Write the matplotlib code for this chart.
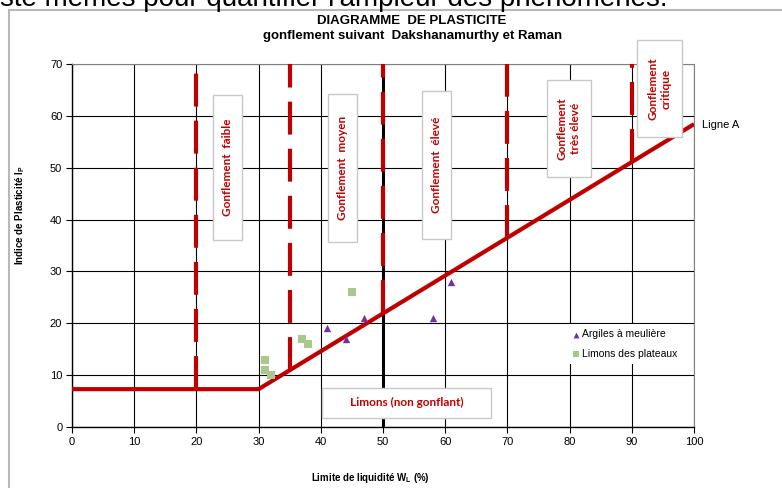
import matplotlib
matplotlib.use("Agg")
import matplotlib.pyplot as plt
from matplotlib.patches import Rectangle

plt.rcParams['font.family'] = ['Liberation Sans', 'DejaVu Sans']
plt.rcParams['mathtext.fontset'] = 'custom'
plt.rcParams['mathtext.rm'] = 'Liberation Sans'
plt.rcParams['mathtext.bf'] = 'Liberation Sans:bold'

# samples
argiles_wl = [41, 44, 47, 58, 61]
argiles_ip = [19, 17, 21, 21, 28]
limons_wl = [31, 31, 32, 37, 38, 45]
limons_ip = [13, 11, 10, 17, 16, 26]

# Ligne A (Casagrande)
aline_wl = [0, 30, 100]
aline_ip = [7.3, 7.3, 58.4]

# swelling boundaries (Dakshanamurthy & Raman), starting on the A-line
bound_wl = [20, 35, 50, 70, 90]
bound_ip_start = [7.3, 10.95, 21.9, 36.5, 51.1]

zone_labels = ['Gonflement  faible', 'Gonflement  moyen', 'Gonflement  élevé',
               'Gonflement\ntrès élevé', 'Gonflement\ncritique']

RED = '#C00000'
PURPLE = '#7030A0'
GREEN = '#A9C88E'

fig = plt.figure(figsize=(7.82, 4.88), dpi=100)
fig.patch.set_facecolor('white')

# outer chart frame (partly cut by the crop)
fig.patches.append(Rectangle((9 / 782, -0.2), 2.0, 1.2 - 10 / 488, transform=fig.transFigure,
                             fill=False, edgecolor='#b8b8b8', lw=1.5, zorder=0))
fig.text(0.0, 1 - 6 / 488, "ste mêmes pour quantifier l'ampleur des phénomènes.",
         fontsize=20, va='baseline', ha='left')

ax = fig.add_axes([72 / 782, 61 / 488, 622 / 782, 363 / 488])
ax.set_xlim(0, 100)
ax.set_ylim(0, 70)
ax.set_xticks(range(0, 101, 10))
ax.set_yticks(range(0, 71, 10))
ax.grid(True, color='black', lw=0.8)
ax.set_axisbelow(True)
ax.tick_params(direction='out', length=4, width=0.8, labelsize=8, pad=3)
for s in ['top', 'right']:
    ax.spines[s].set_color('#808080')
for s in ['left', 'bottom']:
    ax.spines[s].set_linewidth(1.0)

ax.plot([50, 50], [0, 70], color='black', lw=2.2, zorder=2)
ax.plot(aline_wl, aline_ip, color=RED, lw=3, zorder=3, solid_capstyle='butt')
for wl, ip0 in zip(bound_wl, bound_ip_start):
    ax.plot([wl, wl], [ip0, 70], color=RED, lw=3, dashes=(7.9, 3.4), zorder=3)

ax.scatter(argiles_wl, argiles_ip, marker='^', s=28, color=PURPLE, zorder=5,
           label='Argiles à meulière', linewidths=0)
ax.scatter(limons_wl, limons_ip, marker='s', s=26, color=GREEN, zorder=5,
           label='Limons des plateaux', linewidths=0)

# zone labels in white boxes
boxes = [(22.7, 36.1, 27.4, 64.0), (41.2, 35.6, 45.9, 64.2), (56.3, 36.3, 61.0, 64.8),
         (76.3, 48.3, 83.4, 66.9), (90.9, 55.9, 98.1, 74.6)]
for (x0, y0, x1, y1), lab in zip(boxes, zone_labels):
    ax.add_patch(Rectangle((x0, y0), x1 - x0, y1 - y0, facecolor='white',
                           edgecolor='#c8c8c8', lw=1, zorder=6, clip_on=False))
    ax.text((x0 + x1) / 2, (y0 + y1) / 2, lab, rotation=90, ha='center', va='center',
            color=RED, fontsize=8.5, fontweight='bold', family='Lato',
            linespacing=1.2, zorder=7, clip_on=False)

ax.add_patch(Rectangle((40.2, 1.8), 27.1, 5.8, facecolor='white',
                       edgecolor='#c8c8c8', lw=1, zorder=6))
ax.text(53.75, 4.7, 'Limons (non gonflant)', ha='center', va='center', color=RED,
        fontsize=8.5, fontweight='bold', family='Lato', zorder=7)

ax.text(101.3, 58.3, 'Ligne A', fontsize=8, va='center', ha='left', clip_on=False)

leg = ax.legend(loc='upper left', bbox_to_anchor=(0.797, 0.283), fontsize=7.5,
                frameon=True, fancybox=False, edgecolor='none', facecolor='white',
                framealpha=1, handlelength=0.6, handletextpad=0.3, borderpad=0.5,
                labelspacing=0.9, borderaxespad=0, markerscale=0.8)
leg.set_zorder(8)

fig.text(412 / 782, 1 - 21 / 488, 'DIAGRAMME  DE PLASTICITE', ha='center', va='center',
         fontsize=9.5, fontweight='bold', family=['Liberation Sans Narrow', 'Liberation Sans'])
fig.text(413 / 782, 1 - 36.5 / 488, 'gonflement suivant  Dakshanamurthy et Raman',
         ha='center', va='center', fontsize=9.5, fontweight='bold',
         family=['Liberation Sans Narrow', 'Liberation Sans'])

fig.text(370 / 782, 1 - 478 / 488, r'Limite de liquidité W$_{\mathbf{L}}$ (%)', ha='center',
         va='center', fontsize=7, fontweight='bold')
fig.text(20 / 782, 1 - 215 / 488, r'Indice de Plasticité I$_{\mathbf{P}}$', ha='center',
         va='center', fontsize=7, fontweight='bold', rotation=90)

fig.savefig('out.png', dpi=100)
